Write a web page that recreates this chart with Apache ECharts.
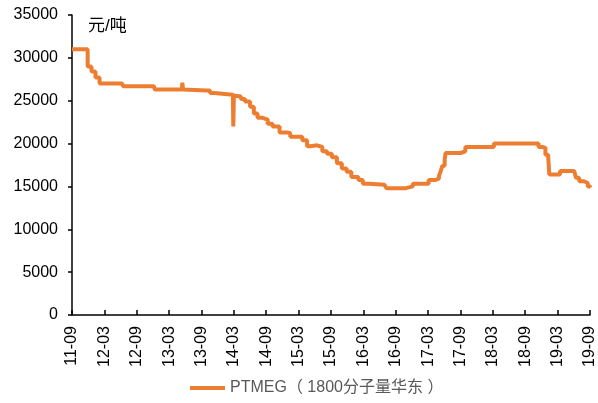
<!DOCTYPE html>
<html>
<head>
<meta charset="utf-8">
<script src="https://cdn.jsdelivr.net/npm/echarts@6/dist/echarts.min.js"></script>
<style>
html,body{margin:0;padding:0;background:#fff;}
#chart{width:598px;height:403px;}
</style>
</head>
<body>
<div id="chart"></div>
<script>
// Dates of price changes and prices (元/吨)
var dates = [
  "2011-09-01","2011-11-12","2011-11-28","2011-12-20","2012-01-12","2012-02-04",
  "2012-06-10","2012-06-15","2012-12-06","2012-12-12","2013-05-12","2013-05-15",
  "2013-05-19","2013-05-22","2013-09-28","2013-10-19","2013-11-12","2014-02-24",
  "2014-02-26","2014-03-01","2014-03-03","2014-04-10","2014-05-03","2014-06-01",
  "2014-06-22","2014-07-13","2014-08-12","2014-09-09","2014-10-06","2014-11-15",
  "2014-12-28","2015-01-15","2015-03-04","2015-03-22","2015-04-18","2015-05-06",
  "2015-06-13","2015-07-13","2015-08-09","2015-09-06","2015-10-04","2015-11-01",
  "2015-11-28","2015-12-25","2016-02-03","2016-02-27","2016-04-01","2016-06-28",
  "2016-07-09","2016-10-01","2016-10-28","2016-12-06","2017-02-18","2017-03-04",
  "2017-04-12","2017-05-01","2017-05-10","2017-05-21","2017-06-03","2017-06-08",
  "2017-09-01","2017-09-12","2017-09-28","2018-02-21","2018-03-07","2018-10-22",
  "2018-11-15","2018-12-07","2018-12-24","2019-01-09","2019-01-15","2019-02-24",
  "2019-03-15","2019-06-03","2019-06-13","2019-07-01","2019-07-28","2019-08-19",
  "2019-09-04"
];
var prices = [
  31000,31000,29000,28400,27700,27000,
  27000,26700,26700,26300,26300,27100,
  26300,26200,26200,25900,25700,25600,
  22000,25600,25500,25200,24900,24300,
  23500,23000,22800,22300,22000,21300,
  21200,20800,20800,20400,19700,19800,
  19600,19100,18800,18400,17700,17100,
  16700,16100,15750,15300,15200,15200,
  14800,14800,15000,15300,15300,15750,
  15900,16200,16700,17400,18100,18900,
  18900,19100,19600,19600,20000,20000,
  19600,19500,18700,18400,16400,16400,
  16800,16700,16000,15600,15400,15000,
  14900
];
var seriesName = "PTMEG（1800分子量华东）";
var unitLabel = "元/吨";
var yTicks = [0, 5000, 10000, 15000, 20000, 25000, 30000, 35000];
var xStart = { year: 2011, month: 9 };

function monthIndex(s) {
  var p = s.split("-").map(Number);
  var dim = new Date(p[0], p[1], 0).getDate();
  return (p[0] - xStart.year) * 12 + (p[1] - xStart.month) + (p[2] - 1) / dim;
}
function fmt(v) {
  var total = xStart.month - 1 + Math.round(v);
  var y = xStart.year + Math.floor(total / 12);
  var m = total % 12 + 1;
  return String(y % 100).padStart(2, "0") + "-" + String(m).padStart(2, "0");
}
var data = dates.map(function (d, i) { return [monthIndex(d), prices[i]]; });

var chart = echarts.init(document.getElementById("chart"), null, { renderer: "canvas" });
var font = "'Liberation Sans', Arial, 'Noto Sans CJK SC', sans-serif";
chart.setOption({
  animation: false,
  textStyle: { fontFamily: font },
  grid: { left: 72, right: 1, top: 15, bottom: 88, containLabel: false },
  legend: {
    left: 190, top: 380, padding: 0,
    itemWidth: 35, itemHeight: 4, itemGap: 10,
    icon: "rect",
    textStyle: { fontSize: 16, color: "#595959", fontFamily: font },
    formatter: function (n) { return n.replace("（", "（ ").replace("）", " ）"); },
    data: [seriesName]
  },
  graphic: [{
    type: "text", left: 88, top: 18,
    style: { text: unitLabel, fontSize: 17, fill: "#000", fontFamily: font }
  }],
  xAxis: {
    type: "value", min: 0, max: 96, interval: 6,
    splitLine: { show: false },
    axisLine: { show: true, lineStyle: { color: "#000", width: 1.5 } },
    axisTick: { show: true, inside: true, length: 5, lineStyle: { color: "#000", width: 1.5 } },
    axisLabel: { rotate: 90, margin: 11, fontSize: 16, color: "#000", formatter: fmt, fontFamily: font }
  },
  yAxis: {
    type: "value", min: yTicks[0], max: yTicks[yTicks.length - 1], interval: 5000,
    splitLine: { show: false },
    axisLine: { show: true, lineStyle: { color: "#000", width: 1.5 } },
    axisTick: { show: true, inside: false, length: 4, lineStyle: { color: "#000", width: 1.5 } },
    axisLabel: { margin: 14, fontSize: 16, color: "#000", fontFamily: font, formatter: function (v) { return String(v); } }
  },
  series: [{
    name: seriesName, type: "line", data: data, step: "end",
    showSymbol: false, symbol: "none",
    lineStyle: { color: "#ED7D31", width: 4 },
    itemStyle: { color: "#ED7D31" }
  }]
});
</script>
</body>
</html>
